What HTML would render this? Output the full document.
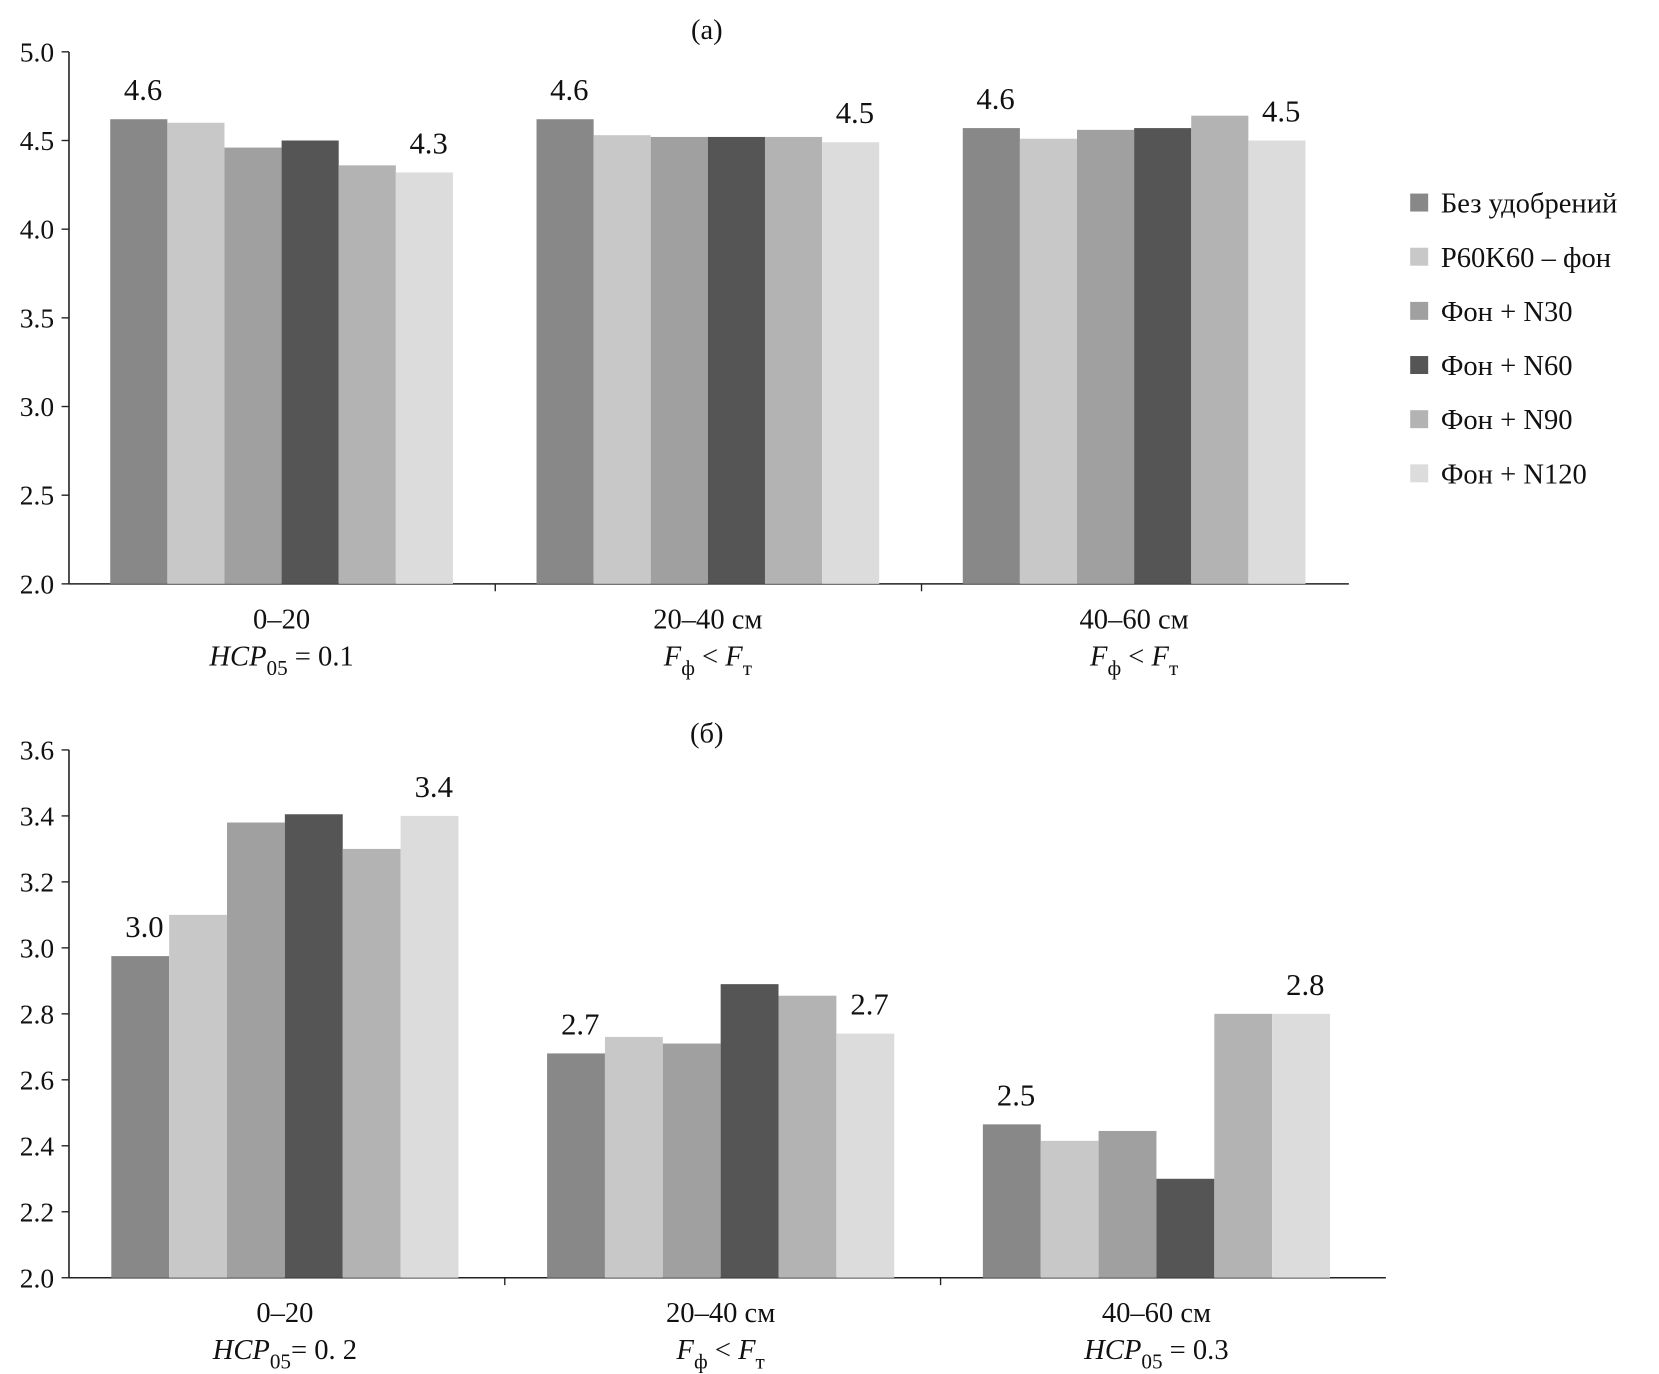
<!DOCTYPE html>
<html><head><meta charset="utf-8"><style>
html,body{margin:0;padding:0;background:#fff}
svg{display:block}
svg text{font-family:"Liberation Serif","Times New Roman","DejaVu Serif",serif;fill:#111}
</style></head><body>
<svg id="svg" width="1659" height="1374" viewBox="0 0 1568 1299" font-family="Liberation Serif, Times New Roman, serif">
<g id="ca"></g>
<g id="cb"></g>
<g id="lg"></g>
</svg>
<script>
const seriesNames = ["Без удобрений","P60K60 – фон","Фон + N30","Фон + N60","Фон + N90","Фон + N120"];
const colors = ["#888888","#c8c8c8","#a0a0a0","#555555","#b3b3b3","#dcdcdc"];
const catA1 = ["0–20","20–40 см","40–60 см"];
const catA2 = [["HCP","05"," = 0.1"],["F","ф"," < F","т"],["F","ф"," < F","т"]];
const valuesA = [[4.62,4.60,4.46,4.50,4.36,4.32],[4.62,4.53,4.52,4.52,4.52,4.49],[4.57,4.51,4.56,4.57,4.64,4.50]];
const labelsA = [["4.6",null,null,null,null,"4.3"],["4.6",null,null,null,null,"4.5"],["4.6",null,null,null,null,"4.5"]];
const ticksA = [2.0,2.5,3.0,3.5,4.0,4.5,5.0];
const catB2 = [["HCP","05","= 0. 2"],["F","ф"," < F","т"],["HCP","05"," = 0.3"]];
const valuesB = [[2.975,3.10,3.38,3.405,3.30,3.40],[2.68,2.73,2.71,2.89,2.855,2.74],[2.465,2.415,2.445,2.30,2.80,2.80]];
const labelsB = [["3.0",null,null,null,null,"3.4"],["2.7",null,null,null,null,"2.7"],["2.5",null,null,null,null,"2.8"]];
const ticksB = [2.0,2.2,2.4,2.6,2.8,3.0,3.2,3.4,3.6];

const NS="http://www.w3.org/2000/svg";
function mk(p,tag,attrs,txt){const e=document.createElementNS(NS,tag);for(const k in attrs)e.setAttribute(k,attrs[k]);if(txt!=null)e.textContent=txt;p.appendChild(e);return e;}

function chart(g,cfg){
  const y=v=>cfg.y0+(v-cfg.vmin)/(cfg.vmax-cfg.vmin)*(cfg.y1-cfg.y0);
  const t=mk(g,'text',{x:668,y:cfg.titleY,'text-anchor':'middle','font-size':27},cfg.title);
  
  
  cfg.ticks.forEach(v=>{
    const l=mk(g,'line',{x1:58,x2:65,y1:y(v),y2:y(v),stroke:'#222','stroke-width':1.3});
    
    
    const tx=mk(g,'text',{x:51,y:y(v)+9,'text-anchor':'end','font-size':26},v.toFixed(1));
    
    
  });
  const ya=mk(g,'line',{x1:65,x2:65,y1:cfg.y1,y2:cfg.y0,stroke:'#222','stroke-width':1.5});
  
  
  const xa=mk(g,'line',{x1:65,x2:cfg.xEnd,y1:cfg.y0,y2:cfg.y0,stroke:'#222','stroke-width':1.5});
  
  
  const gw=cfg.gw;
  cfg.values.forEach((grp,gi)=>{
    const gx=65+gi*gw;
    if(gi>0){const s=mk(g,'line',{x1:gx,x2:gx,y1:cfg.y0,y2:cfg.y0+7,stroke:'#222','stroke-width':1.3});
      
      }
    grp.forEach((v,si)=>{
      const bx=gx+cfg.off+si*cfg.bw;
      const r=mk(g,'rect',{x:bx,y:y(v),width:cfg.bw,height:cfg.y0-y(v),fill:colors[si]});
      
      
      const lab=cfg.labels[gi][si];
      if(lab){const lt=mk(g,'text',{x:bx+cfg.bw/2+4,y:y(v)-18,'text-anchor':'middle','font-size':29},lab);
        
        }
    });
    const cx=gx+cfg.off+3*cfg.bw;
    const c1=mk(g,'text',{x:cx,y:cfg.y0+42,'text-anchor':'middle','font-size':27},cfg.cat1[gi]);
    
    
    const parts=cfg.cat2[gi];
    const c2=mk(g,'text',{x:cx,y:cfg.y0+77,'text-anchor':'middle','font-size':27});
    
    
    parts.forEach((p,i)=>{
      const sub=(i%2===1);
      const italic=!sub && (p==='HCP'||p==='F'||p===' < F');
      const ts=mk(c2,'tspan',{'font-size':sub?20:27,'dy':sub?9:(i>0?-9:0)},p);
      if(p===' < F'){ts.textContent=' < ';mk(c2,'tspan',{'font-style':'italic'},'F');}
      else if(italic) ts.setAttribute('font-style','italic');
    });
  });
}
chart(document.getElementById('ca'),{title:'(а)',titleY:37,y0:552,y1:49,vmin:2,vmax:5,ticks:ticksA,xEnd:1275,gw:403,off:39,bw:54,values:valuesA,labels:labelsA,cat1:catA1,cat2:catA2});
chart(document.getElementById('cb'),{title:'(б)',titleY:702,y0:1208,y1:709,vmin:2,vmax:3.6,ticks:ticksB,xEnd:1310,gw:412,off:40,bw:54.7,values:valuesB,labels:labelsB,cat1:catA1,cat2:catB2});
const lg=document.getElementById('lg');
seriesNames.forEach((n,i)=>{
  const yy=192+i*51.2;
  const r=mk(lg,'rect',{x:1333,y:yy-9,width:17,height:17,fill:colors[i]});
  
  
  const t=mk(lg,'text',{x:1362,y:yy+9,'font-size':27},n);
  
  
});
</script>
</body></html>
